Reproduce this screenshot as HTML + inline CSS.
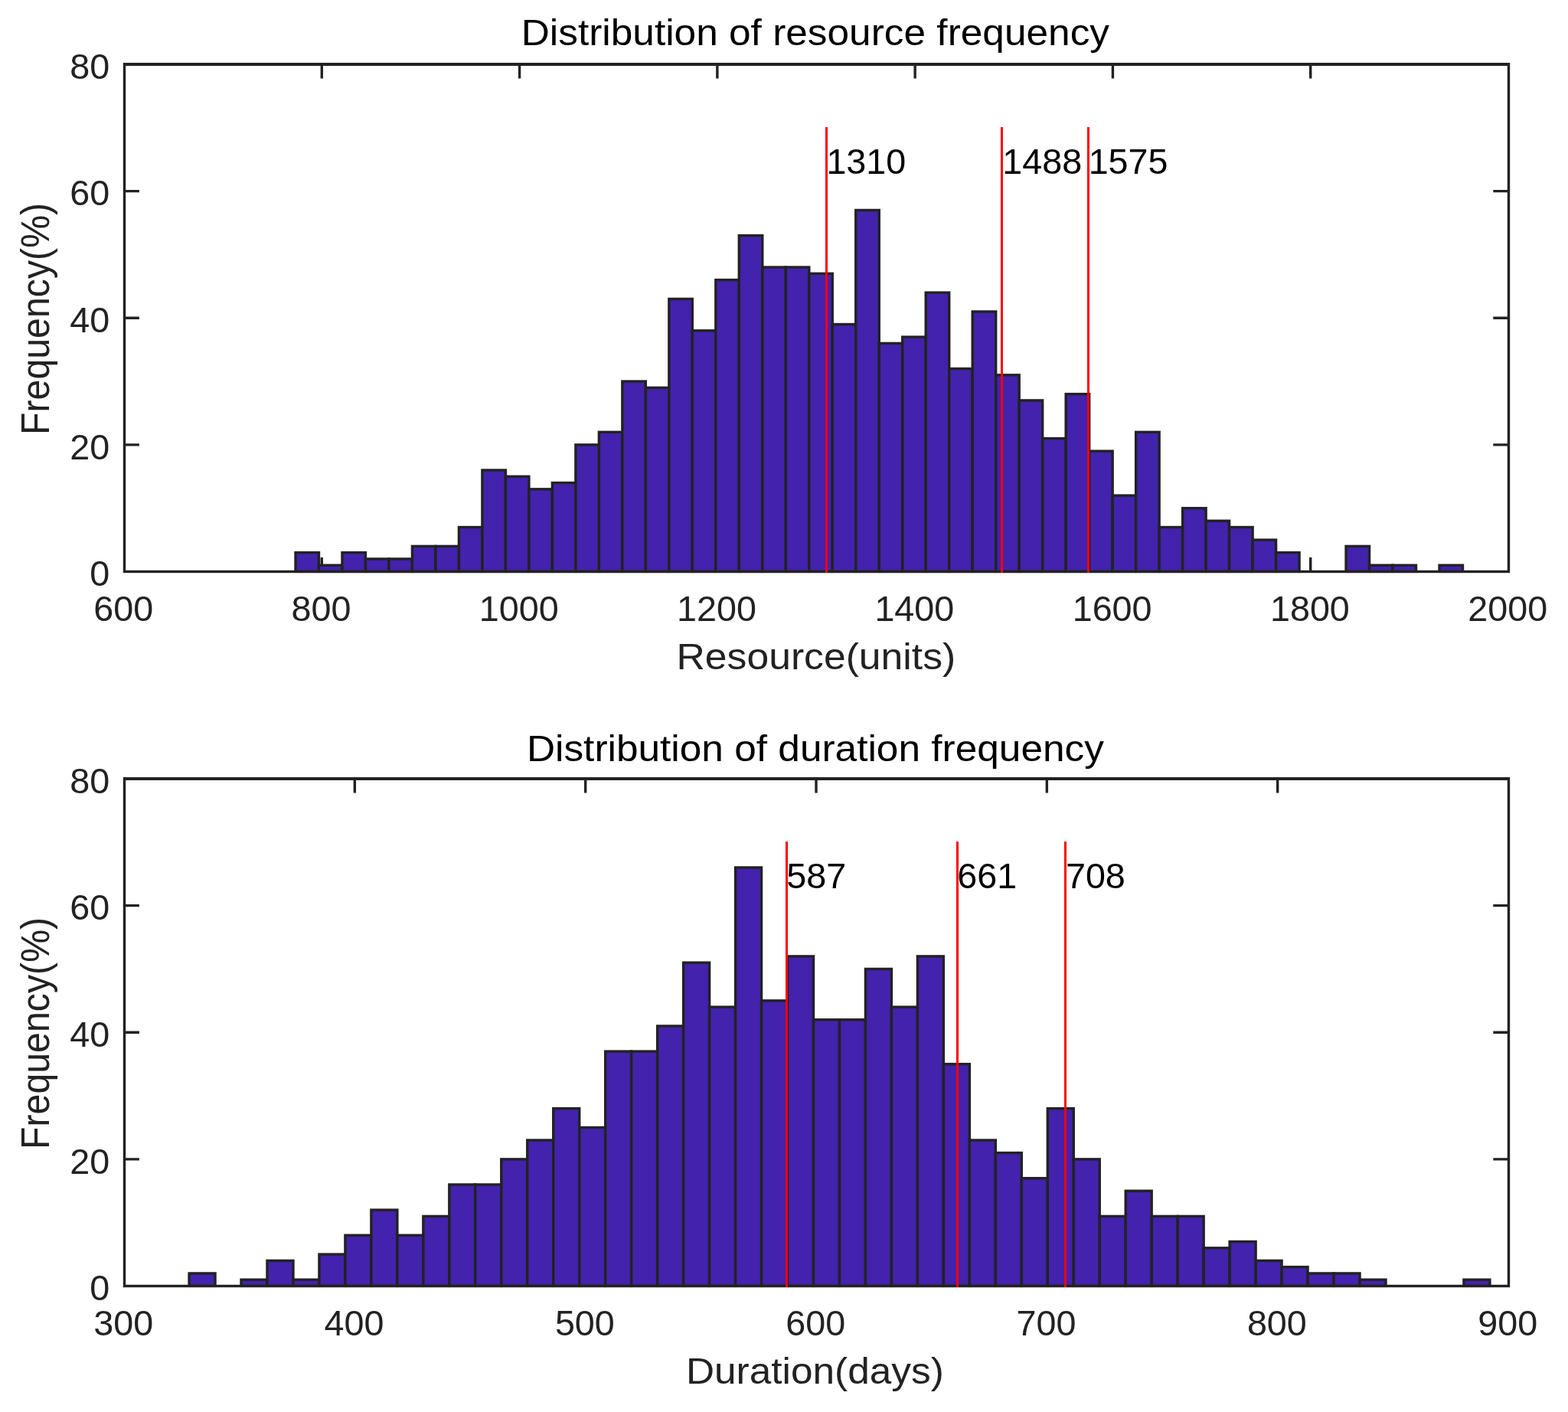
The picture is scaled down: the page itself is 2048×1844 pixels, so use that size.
<!DOCTYPE html>
<html lang="en">
<head>
<meta charset="utf-8">
<title>Distribution of resource and duration frequency</title>
<style>
html,body{margin:0;padding:0;background:#fff;}
body{width:2048px;height:1844px;overflow:hidden;}
svg{display:block;}
svg text{font-family:"Liberation Sans",sans-serif;white-space:pre;}
</style>
</head>
<body>
<svg width="2048" height="1844" viewBox="0 0 2048 1844">
<rect width="2048" height="1844" fill="#fff"/>
<g>
<path d="M420.29 746.5V728.1M420.29 84V102.4M678.57 746.5V728.1M678.57 84V102.4M936.86 746.5V728.1M936.86 84V102.4M1195.14 746.5V728.1M1195.14 84V102.4M1453.43 746.5V728.1M1453.43 84V102.4M1711.71 746.5V728.1M1711.71 84V102.4M162.5 580.88H181.9M1970.5 580.88H1950.3M162.5 415.25H181.9M1970.5 415.25H1950.3M162.5 249.62H181.9M1970.5 249.62H1950.3" stroke="#222" stroke-width="3.4" fill="none"/>
<clipPath id="c84"><rect x="0" y="0" width="2048" height="748.2"/></clipPath>
<g fill="#4322ad" stroke="#222" stroke-width="3.4" stroke-linejoin="miter" clip-path="url(#c84)">
<rect x="386" y="721.66" width="30.49" height="24.84"/>
<rect x="416.49" y="738.22" width="30.49" height="8.28"/>
<rect x="446.98" y="721.66" width="30.49" height="24.84"/>
<rect x="477.47" y="729.94" width="30.49" height="16.56"/>
<rect x="507.96" y="729.94" width="30.49" height="16.56"/>
<rect x="538.45" y="713.38" width="30.49" height="33.12"/>
<rect x="568.94" y="713.38" width="30.49" height="33.12"/>
<rect x="599.43" y="688.53" width="30.49" height="57.97"/>
<rect x="629.92" y="614" width="30.49" height="132.5"/>
<rect x="660.41" y="622.28" width="30.49" height="124.22"/>
<rect x="690.9" y="638.84" width="30.49" height="107.66"/>
<rect x="721.39" y="630.56" width="30.49" height="115.94"/>
<rect x="751.88" y="580.88" width="30.49" height="165.62"/>
<rect x="782.37" y="564.31" width="30.49" height="182.19"/>
<rect x="812.86" y="498.06" width="30.49" height="248.44"/>
<rect x="843.35" y="506.34" width="30.49" height="240.16"/>
<rect x="873.84" y="390.41" width="30.49" height="356.09"/>
<rect x="904.33" y="431.81" width="30.49" height="314.69"/>
<rect x="934.82" y="365.56" width="30.49" height="380.94"/>
<rect x="965.31" y="307.59" width="30.49" height="438.91"/>
<rect x="995.8" y="349" width="30.49" height="397.5"/>
<rect x="1026.29" y="349" width="30.49" height="397.5"/>
<rect x="1056.78" y="357.28" width="30.49" height="389.22"/>
<rect x="1087.27" y="423.53" width="30.49" height="322.97"/>
<rect x="1117.76" y="274.47" width="30.49" height="472.03"/>
<rect x="1148.25" y="448.38" width="30.49" height="298.12"/>
<rect x="1178.74" y="440.09" width="30.49" height="306.41"/>
<rect x="1209.23" y="382.12" width="30.49" height="364.38"/>
<rect x="1239.72" y="481.5" width="30.49" height="265"/>
<rect x="1270.21" y="406.97" width="30.49" height="339.53"/>
<rect x="1300.7" y="489.78" width="30.49" height="256.72"/>
<rect x="1331.19" y="522.91" width="30.49" height="223.59"/>
<rect x="1361.68" y="572.59" width="30.49" height="173.91"/>
<rect x="1392.17" y="514.62" width="30.49" height="231.88"/>
<rect x="1422.66" y="589.16" width="30.49" height="157.34"/>
<rect x="1453.15" y="647.12" width="30.49" height="99.38"/>
<rect x="1483.64" y="564.31" width="30.49" height="182.19"/>
<rect x="1514.13" y="688.53" width="30.49" height="57.97"/>
<rect x="1544.62" y="663.69" width="30.49" height="82.81"/>
<rect x="1575.11" y="680.25" width="30.49" height="66.25"/>
<rect x="1605.6" y="688.53" width="30.49" height="57.97"/>
<rect x="1636.09" y="705.09" width="30.49" height="41.41"/>
<rect x="1666.58" y="721.66" width="30.49" height="24.84"/>
<rect x="1758.05" y="713.38" width="30.49" height="33.12"/>
<rect x="1788.54" y="738.22" width="30.49" height="8.28"/>
<rect x="1819.03" y="738.22" width="30.49" height="8.28"/>
<rect x="1880.01" y="738.22" width="30.49" height="8.28"/>
</g>
<rect x="162.5" y="84" width="1808" height="662.5" fill="none" stroke="#222" stroke-width="3.4"/>
<rect x="161" y="82" width="1811" height="4" fill="#222"/>
<rect x="1078" y="166" width="3" height="582" fill="#ff0000"/>
<rect x="1307" y="166" width="3" height="582" fill="#ff0000"/>
<rect x="1420" y="166" width="3" height="582" fill="#ff0000"/>
</g>
<g>
<path d="M463.33 1679.5V1661.1M463.33 1017V1035.4M764.67 1679.5V1661.1M764.67 1017V1035.4M1066 1679.5V1661.1M1066 1017V1035.4M1367.33 1679.5V1661.1M1367.33 1017V1035.4M1668.67 1679.5V1661.1M1668.67 1017V1035.4M162.5 1513.88H181.9M1970.5 1513.88H1950.3M162.5 1348.25H181.9M1970.5 1348.25H1950.3M162.5 1182.62H181.9M1970.5 1182.62H1950.3" stroke="#222" stroke-width="3.4" fill="none"/>
<clipPath id="c1017"><rect x="0" y="0" width="2048" height="1681.2"/></clipPath>
<g fill="#4322ad" stroke="#222" stroke-width="3.4" stroke-linejoin="miter" clip-path="url(#c1017)">
<rect x="247.05" y="1662.94" width="33.98" height="16.56"/>
<rect x="315" y="1671.22" width="33.98" height="8.28"/>
<rect x="348.98" y="1646.38" width="33.98" height="33.12"/>
<rect x="382.96" y="1671.22" width="33.98" height="8.28"/>
<rect x="416.94" y="1638.09" width="33.98" height="41.41"/>
<rect x="450.91" y="1613.25" width="33.98" height="66.25"/>
<rect x="484.89" y="1580.12" width="33.98" height="99.38"/>
<rect x="518.87" y="1613.25" width="33.98" height="66.25"/>
<rect x="552.84" y="1588.41" width="33.98" height="91.09"/>
<rect x="586.82" y="1547" width="33.98" height="132.5"/>
<rect x="620.8" y="1547" width="33.98" height="132.5"/>
<rect x="654.77" y="1513.88" width="33.98" height="165.62"/>
<rect x="688.75" y="1489.03" width="33.98" height="190.47"/>
<rect x="722.73" y="1447.62" width="33.98" height="231.88"/>
<rect x="756.7" y="1472.47" width="33.98" height="207.03"/>
<rect x="790.68" y="1373.09" width="33.98" height="306.41"/>
<rect x="824.66" y="1373.09" width="33.98" height="306.41"/>
<rect x="858.64" y="1339.97" width="33.98" height="339.53"/>
<rect x="892.61" y="1257.16" width="33.98" height="422.34"/>
<rect x="926.59" y="1315.12" width="33.98" height="364.38"/>
<rect x="960.57" y="1132.94" width="33.98" height="546.56"/>
<rect x="994.54" y="1306.84" width="33.98" height="372.66"/>
<rect x="1028.52" y="1248.88" width="33.98" height="430.62"/>
<rect x="1062.5" y="1331.69" width="33.98" height="347.81"/>
<rect x="1096.47" y="1331.69" width="33.98" height="347.81"/>
<rect x="1130.45" y="1265.44" width="33.98" height="414.06"/>
<rect x="1164.43" y="1315.12" width="33.98" height="364.38"/>
<rect x="1198.41" y="1248.88" width="33.98" height="430.62"/>
<rect x="1232.38" y="1389.66" width="33.98" height="289.84"/>
<rect x="1266.36" y="1489.03" width="33.98" height="190.47"/>
<rect x="1300.34" y="1505.59" width="33.98" height="173.91"/>
<rect x="1334.31" y="1538.72" width="33.98" height="140.78"/>
<rect x="1368.29" y="1447.62" width="33.98" height="231.88"/>
<rect x="1402.27" y="1513.88" width="33.98" height="165.62"/>
<rect x="1436.24" y="1588.41" width="33.98" height="91.09"/>
<rect x="1470.22" y="1555.28" width="33.98" height="124.22"/>
<rect x="1504.2" y="1588.41" width="33.98" height="91.09"/>
<rect x="1538.18" y="1588.41" width="33.98" height="91.09"/>
<rect x="1572.15" y="1629.81" width="33.98" height="49.69"/>
<rect x="1606.13" y="1621.53" width="33.98" height="57.97"/>
<rect x="1640.11" y="1646.38" width="33.98" height="33.12"/>
<rect x="1674.08" y="1654.66" width="33.98" height="24.84"/>
<rect x="1708.06" y="1662.94" width="33.98" height="16.56"/>
<rect x="1742.04" y="1662.94" width="33.98" height="16.56"/>
<rect x="1776.01" y="1671.22" width="33.98" height="8.28"/>
<rect x="1911.92" y="1671.22" width="33.98" height="8.28"/>
</g>
<rect x="162.5" y="1017" width="1808" height="662.5" fill="none" stroke="#222" stroke-width="3.4"/>
<rect x="161" y="1015" width="1811" height="4" fill="#222"/>
<rect x="1026" y="1099" width="3" height="582" fill="#ff0000"/>
<rect x="1249" y="1099" width="3" height="582" fill="#ff0000"/>
<rect x="1390" y="1099" width="3" height="582" fill="#ff0000"/>
</g>
<g>
<text transform="translate(680.69,58.8) scale(1.0710,1.0083)" font-size="48" fill="#000">Distribution of resource frequency</text>
<text transform="translate(687.89,993.9) scale(1.0708,1.0083)" font-size="48" fill="#000">Distribution of duration frequency</text>
<text transform="translate(883.57,873.8) scale(1.0765,1.0083)" font-size="48" fill="#222">Resource(units)</text>
<text transform="translate(895.89,1806.5) scale(1.0707,1.0083)" font-size="48" fill="#222">Duration(days)</text>
<text transform="translate(122.24,811) scale(1.0614,1.0416)" font-size="44" fill="#222">600</text>
<text transform="translate(380.53,811) scale(1.0614,1.0416)" font-size="44" fill="#222">800</text>
<text transform="translate(625.83,811) scale(1.0614,1.0416)" font-size="44" fill="#222">1000</text>
<text transform="translate(884.11,811) scale(1.0614,1.0416)" font-size="44" fill="#222">1200</text>
<text transform="translate(1142.4,811) scale(1.0614,1.0416)" font-size="44" fill="#222">1400</text>
<text transform="translate(1400.68,811) scale(1.0614,1.0416)" font-size="44" fill="#222">1600</text>
<text transform="translate(1658.97,811) scale(1.0614,1.0416)" font-size="44" fill="#222">1800</text>
<text transform="translate(1917.26,811) scale(1.0614,1.0416)" font-size="44" fill="#222">2000</text>
<text transform="translate(117.23,765) scale(1.0614,1.0416)" font-size="44" fill="#222">0</text>
<text transform="translate(91.26,600) scale(1.0614,1.0416)" font-size="44" fill="#222">20</text>
<text transform="translate(91.26,434) scale(1.0614,1.0416)" font-size="44" fill="#222">40</text>
<text transform="translate(91.26,268) scale(1.0614,1.0416)" font-size="44" fill="#222">60</text>
<text transform="translate(91.26,103) scale(1.0614,1.0416)" font-size="44" fill="#222">80</text>
<text transform="translate(1079.41,227) scale(1.0614,1.0416)" font-size="44" fill="#000">1310</text>
<text transform="translate(1309.29,227) scale(1.0614,1.0416)" font-size="44" fill="#000">1488</text>
<text transform="translate(1421.64,227) scale(1.0614,1.0416)" font-size="44" fill="#000">1575</text>
<text transform="translate(122.24,1744) scale(1.0614,1.0416)" font-size="44" fill="#222">300</text>
<text transform="translate(423.57,1744) scale(1.0614,1.0416)" font-size="44" fill="#222">400</text>
<text transform="translate(724.91,1744) scale(1.0614,1.0416)" font-size="44" fill="#222">500</text>
<text transform="translate(1026.24,1744) scale(1.0614,1.0416)" font-size="44" fill="#222">600</text>
<text transform="translate(1327.57,1744) scale(1.0614,1.0416)" font-size="44" fill="#222">700</text>
<text transform="translate(1628.91,1744) scale(1.0614,1.0416)" font-size="44" fill="#222">800</text>
<text transform="translate(1930.24,1744) scale(1.0614,1.0416)" font-size="44" fill="#222">900</text>
<text transform="translate(117.23,1698) scale(1.0614,1.0416)" font-size="44" fill="#222">0</text>
<text transform="translate(91.26,1533) scale(1.0614,1.0416)" font-size="44" fill="#222">20</text>
<text transform="translate(91.26,1367) scale(1.0614,1.0416)" font-size="44" fill="#222">40</text>
<text transform="translate(91.26,1201) scale(1.0614,1.0416)" font-size="44" fill="#222">60</text>
<text transform="translate(91.26,1036) scale(1.0614,1.0416)" font-size="44" fill="#222">80</text>
<text transform="translate(1027.33,1160) scale(1.0614,1.0416)" font-size="44" fill="#000">587</text>
<text transform="translate(1250.31,1160) scale(1.0614,1.0416)" font-size="44" fill="#000">661</text>
<text transform="translate(1391.94,1160) scale(1.0614,1.0416)" font-size="44" fill="#000">708</text>
<text transform="translate(64.07,567.96) rotate(-90) scale(1.0058,1.0833)" font-size="48" fill="#222">Frequency(%)</text>
<text transform="translate(64.07,1500.96) rotate(-90) scale(1.0058,1.0833)" font-size="48" fill="#222">Frequency(%)</text>
</g>
</svg>
</body>
</html>
